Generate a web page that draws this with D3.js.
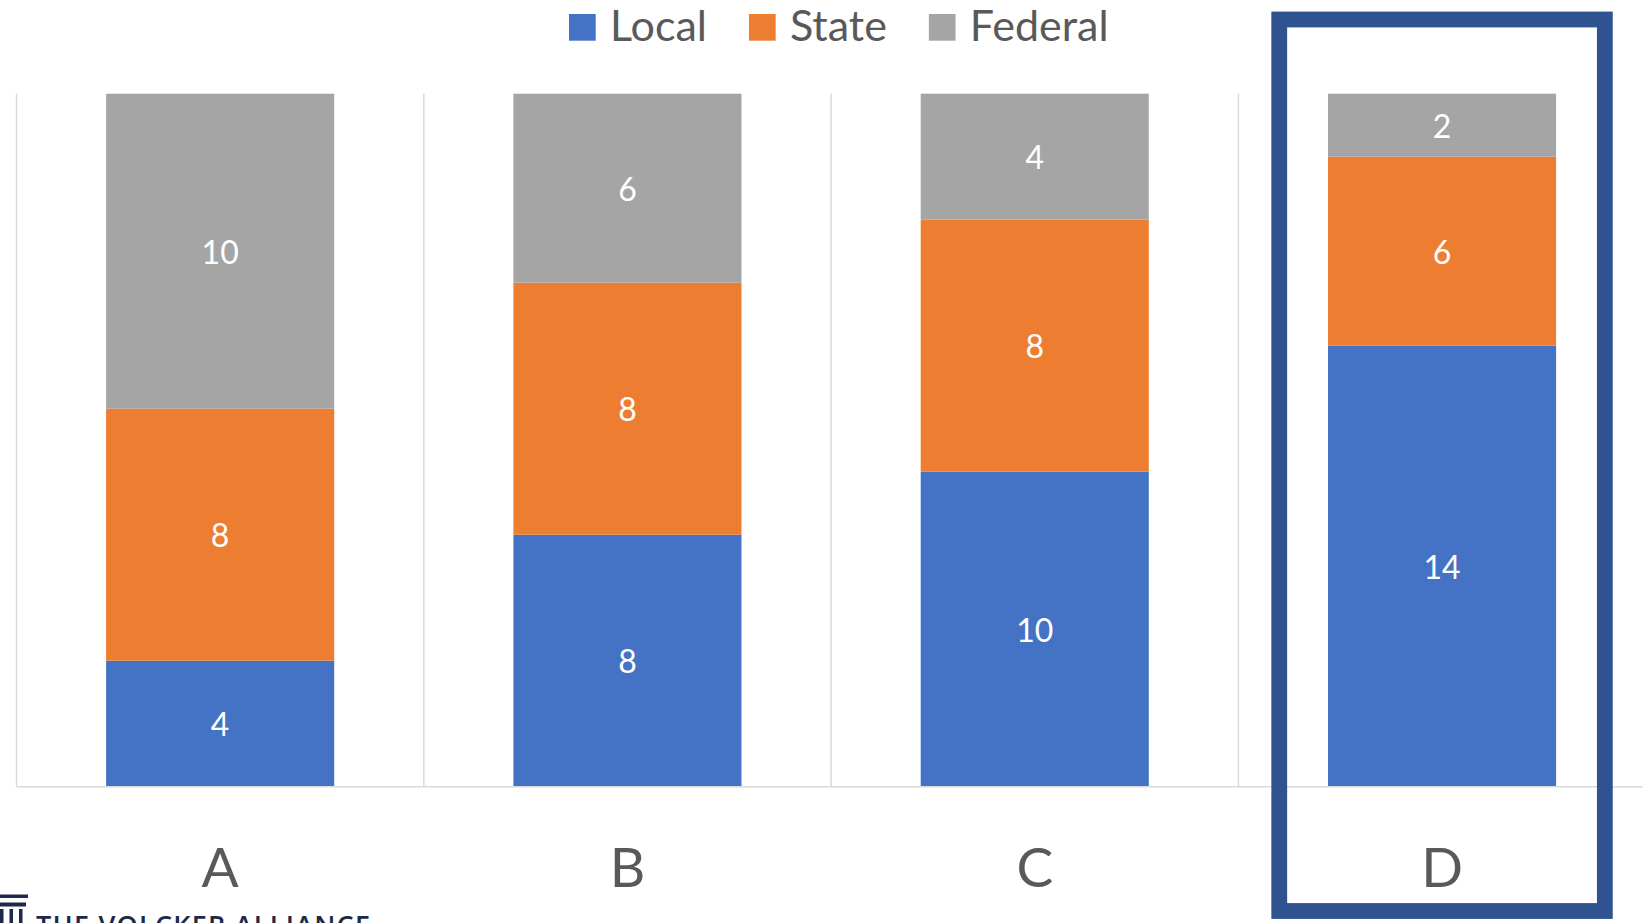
<!DOCTYPE html>
<html>
<head>
<meta charset="utf-8">
<script src="https://cdn.jsdelivr.net/npm/d3@7"></script>
<style>
html,body{margin:0;padding:0;background:#fff;overflow:hidden;}
svg{display:block;}
text{font-family:"Lato","Open Sans",sans-serif;}
</style>
</head>
<body>
<svg id="chart" width="1643" height="923"></svg>
<script>
const categories = ["A", "B", "C", "D"];
const seriesNames = ["Local", "State", "Federal"];
const local = [4, 8, 10, 14];
const state = [8, 8, 8, 6];
const federal = [10, 6, 4, 2];
const highlighted = ["D"];
const colors = ["#4472C4", "#ED7D31", "#A5A5A5"];

(function () {
const svg = d3.select("#chart");
const W = 1643;
const pLeft = 16.5, pRight = 1645.7, pTop = 93.7, pBase = 786.7;

const rows = categories.map((c, i) => ({cat: c, Local: local[i], State: state[i], Federal: federal[i]}));
const stack = d3.stack().keys(seriesNames)(rows);
const maxTotal = d3.max(rows, r => r.Local + r.State + r.Federal);

const x = d3.scaleBand().domain(categories).range([pLeft, pRight]).padding(0);
const y = d3.scaleLinear().domain([0, maxTotal]).range([pBase, pTop]);
const color = d3.scaleOrdinal().domain(seriesNames).range(colors);
const barW = x.bandwidth() * 0.56;

// vertical gridlines (category separators)
svg.append("g").selectAll("line").data(categories).join("line")
  .attr("x1", d => x(d)).attr("x2", d => x(d))
  .attr("y1", y(maxTotal)).attr("y2", pBase)
  .attr("stroke", "#D9D9D9").attr("stroke-width", 1.5);

// bars
const g = svg.append("g");
stack.forEach(layer => {
  g.append("g").attr("fill", color(layer.key)).selectAll("rect").data(layer).join("rect")
    .attr("x", d => x(d.data.cat) + (x.bandwidth() - barW) / 2)
    .attr("width", barW)
    .attr("y", d => y(d[1]))
    .attr("height", d => y(d[0]) - y(d[1]));
  g.append("g").selectAll("text").data(layer).join("text")
    .attr("x", d => x(d.data.cat) + x.bandwidth() / 2)
    .attr("y", d => (y(d[0]) + y(d[1])) / 2 + 12.5)
    .attr("text-anchor", "middle")
    .attr("fill", "#fff")
    .attr("font-size", 32)
    .text(d => d[1] - d[0]);
});

// baseline
svg.append("line").attr("x1", pLeft).attr("x2", W).attr("y1", pBase).attr("y2", pBase)
  .attr("stroke", "#D9D9D9").attr("stroke-width", 1.5);

// category axis labels
const xAxis = d3.axisBottom(x).tickSize(0).tickPadding(0);
const ax = svg.append("g").attr("transform", `translate(0,${pBase})`).call(xAxis);
ax.select(".domain").remove();
ax.selectAll("text").attr("font-size", 55).attr("fill", "#595959")
  .attr("dy", null).attr("y", 100).style("font-family", "Lato, 'Open Sans', sans-serif");

// legend
const leg = svg.append("g");
let lx = 569;
seriesNames.forEach((s, i) => {
  leg.append("rect").attr("x", lx).attr("y", 14).attr("width", 26.7).attr("height", 26.7).attr("fill", colors[i]);
  const t = leg.append("text").attr("x", lx + 41).attr("y", 40.7).attr("font-size", 43).attr("fill", "#595959").text(s);
  const w = t.node().getComputedTextLength();
  lx = lx + 41 + w + 42;
});

// highlight box around D
highlighted.forEach(c => {
  svg.append("rect")
    .attr("x", x(c) + x.bandwidth() / 2 - 162.8)
    .attr("y", 19.5)
    .attr("width", 325.6)
    .attr("height", 891.5)
    .attr("fill", "none")
    .attr("stroke", "#2F5290")
    .attr("stroke-width", 15.8);
});

// logo (bottom-left, partially cropped)
const logo = svg.append("g").attr("fill", "#1B2A4A");
logo.append("rect").attr("x", 0).attr("y", 894.5).attr("width", 28).attr("height", 3.5);
logo.append("rect").attr("x", 0).attr("y", 902.5).attr("width", 26).attr("height", 4);
[0, 9.5, 19].forEach(cx => logo.append("rect").attr("x", cx).attr("y", 909).attr("width", 3.5).attr("height", 20));
logo.append("text").attr("x", 36).attr("y", 935).attr("font-size", 27)
  .attr("textLength", 334).attr("lengthAdjust", "spacing")
  .style("font-family", "'Open Sans', sans-serif").attr("font-weight", 600)
  .text("THE VOLCKER ALLIANCE");
})();
</script>
</body>
</html>
